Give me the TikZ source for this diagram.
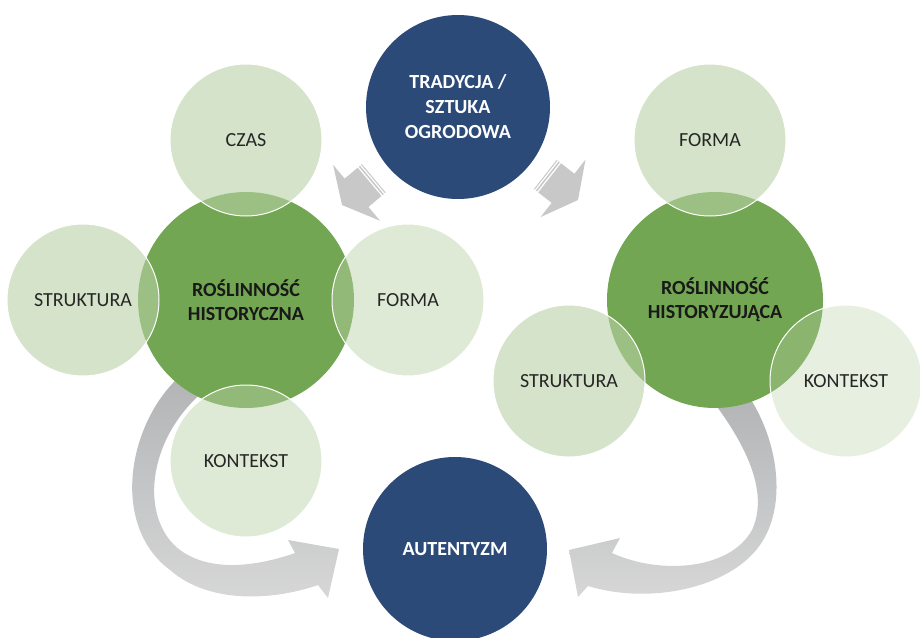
\documentclass[tikz,border=0pt]{standalone}
\usepackage{fontspec}
\setmainfont{Carlito}
\definecolor{navy}{RGB}{43,74,120}
\definecolor{leaf}{RGB}{115,166,82}
\definecolor{pale}{RGB}{184,209,165}
\definecolor{greydark}{RGB}{178,180,182}
\definecolor{greylight}{RGB}{216,216,216}
\definecolor{greyarrow}{RGB}{200,200,200}
\begin{document}
\begin{tikzpicture}[x=1pt,y=-1pt]
    \tikzstyle{bluedisc}=[circle,fill=navy,text=white,font=\fontsize{20}{25}\selectfont\bfseries,align=center,inner sep=0pt,minimum size=184pt]
    \tikzstyle{greendisc}=[circle,fill=leaf,inner sep=0pt,minimum size=216pt]
    \tikzstyle{greentext}=[text=black!90,font=\fontsize{20}{24}\selectfont\bfseries,align=center]
    \tikzstyle{leafdisc}=[circle,fill=pale,draw=white,line width=1pt,text=black!85,font=\fontsize{20}{24}\selectfont,inner sep=0pt,minimum size=152pt]
    \useasboundingbox (0,0) rectangle (920,637);
    \clip (0,0) rectangle (920,637);
    % curved arrows towards AUTENTYZM
    \shade [top color=greydark,bottom color=greylight]
        (178,378) .. controls (128,425) and (110,525) .. (170,570)
        .. controls (210,605) and (275,600) .. (318,585)
        -- (328,598) -- (339,549) -- (288,540) -- (295,553)
        .. controls (255,567) and (210,572) .. (180,550)
        .. controls (140,520) and (145,440) .. (205,390) -- cycle;
    \shade [top color=greydark,bottom color=greylight]
        (748,395) .. controls (778,440) and (788,505) .. (760,545)
        .. controls (730,588) and (650,605) .. (588,586)
        -- (578,597) -- (569,550) -- (620,538) -- (612,553)
        .. controls (660,575) and (730,570) .. (752,530)
        .. controls (768,495) and (750,450) .. (712,400) -- cycle;
    % striped arrows from TRADYCJA
    \foreach \x/\y/\a in {342/205/-140,578/200/-38} {
        \begin{scope}[shift={(\x,\y)},rotate=\a]
            \fill [greyarrow] (0,0) -- (-19,36.5) -- (-19,18.5) -- (-36,18.5) -- (-36,-18.5) -- (-19,-18.5) -- (-19,-36.5) -- cycle;
            \fill [greyarrow] (-37.5,-18.5) rectangle (-39,18.5);
            \fill [greyarrow] (-40.5,-18.5) rectangle (-41.5,18.5);
        \end{scope}
    }
    \node (tradycja) [bluedisc] at (458,107) {TRADYCJA /\\SZTUKA\\OGRODOWA};
    \node (autentyzm) [bluedisc] at (455,549) {AUTENTYZM};
    \node (hist) [greendisc] at (246,300) {};
    \node (histz) [greendisc] at (715,300) {};
    \node (czas) [leafdisc,fill opacity=0.6,text opacity=1] at (246,140) {CZAS};
    \node (strukL) [leafdisc,fill opacity=0.6,text opacity=1] at (83,300) {STRUKTURA};
    \node (formaL) [leafdisc,fill opacity=0.45,text opacity=1] at (408,300) {FORMA};
    \node (kontL) [leafdisc,fill opacity=0.45,text opacity=1] at (246,461) {KONTEKST};
    \node (formaR) [leafdisc,fill opacity=0.6,text opacity=1] at (710,140) {FORMA};
    \node (strukR) [leafdisc,fill opacity=0.6,text opacity=1] at (569,381) {STRUKTURA};
    \node (kontR) [leafdisc,fill opacity=0.35,text opacity=1] at (846,381) {KONTEKST};
    \node (histlbl) [greentext] at (hist) {ROŚLINNOŚĆ\\HISTORYCZNA};
    \node (histzlbl) [greentext] at (histz) {ROŚLINNOŚĆ\\HISTORYZUJĄCA};
\end{tikzpicture}
\end{document}
